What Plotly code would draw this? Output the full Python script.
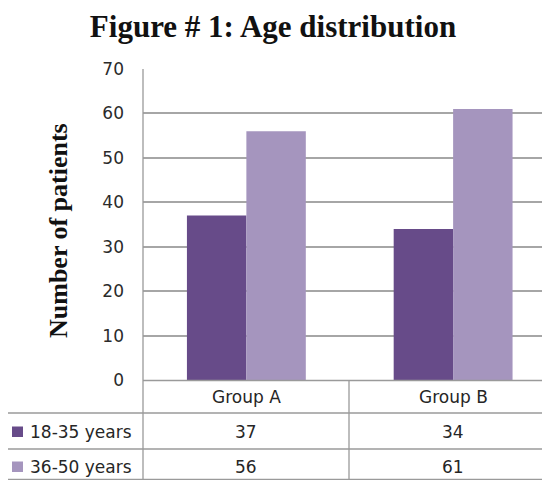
import plotly.graph_objects as go

categories = ["Group A", "Group B"]
series_names = ["18-35 years", "36-50 years"]
values_18_35 = [37, 34]
values_36_50 = [56, 61]
y_ticks = [0, 10, 20, 30, 40, 50, 60, 70]

colors = ["#674b89", "#a595be"]
series_values = [values_18_35, values_36_50]

# the page body has an 8px margin; the figure is sized/offset to compensate
OFF = 8
W, H = 550 - OFF, 480 - OFF
PL, PR, PT, PB = 143, 550, 69, 380  # plot area in page pixels
L, R, T, B = PL - OFF, 0, PT - OFF, 480 - PB
PW, PH = PR - PL, PB - PT

def px(x):
    return (x - PL) / PW

def py(y):
    return (PB - y) / PH

fig = go.Figure()
for name, vals, col in zip(series_names, series_values, colors):
    fig.add_trace(go.Bar(x=categories, y=vals, name=name, marker_color=col,
                         marker_line_width=0, showlegend=False))

grid_col = "#a6a6a6"
line_col = "#9a9a9a"
shapes = []
def hline(y, x0, x1):
    shapes.append(dict(type="line", xref="paper", yref="paper",
                       x0=px(x0), x1=px(x1), y0=py(y), y1=py(y),
                       line=dict(color=line_col, width=1.3)))
def vline(x, y0, y1):
    shapes.append(dict(type="line", xref="paper", yref="paper",
                       x0=px(x), x1=px(x), y0=py(y0), y1=py(y1),
                       line=dict(color=line_col, width=1.3)))

hline(380.5, 143, 550)
hline(413, 4, 550)
hline(449, 4, 550)
hline(479.5, 4, 550)
vline(143, 69, 480)
vline(349, 380, 480)
vline(4, 413, 480)

annotations = []
tfont = dict(family="DejaVu Sans, sans-serif", size=17, color="#262626")
for c in categories:
    annotations.append(dict(x=c, xref="x", y=py(397), yref="paper", text=c,
                            showarrow=False, xanchor="center", yanchor="middle", font=tfont))
row_y = [431.5, 466.5]
for name, vals, col, ry in zip(series_names, series_values, colors, row_y):
    shapes.append(dict(type="rect", xref="paper", yref="paper",
                       x0=px(12), x1=px(23), y0=py(ry - 5), y1=py(ry + 5.5),
                       fillcolor=col, line=dict(width=0)))
    annotations.append(dict(x=px(28), xref="paper", y=py(ry), yref="paper",
                            text=name, showarrow=False, xanchor="left", yanchor="middle",
                            font=tfont))
    for c, v in zip(categories, vals):
        annotations.append(dict(x=c, xref="x", y=py(ry), yref="paper", text=str(v),
                                showarrow=False, xanchor="center", yanchor="middle", font=tfont))

# y-axis title
annotations.append(dict(x=px(58), xref="paper", y=py(231), yref="paper",
                        text="<b>Number of patients</b>", textangle=-90, showarrow=False,
                        xanchor="center", yanchor="middle",
                        font=dict(family="Liberation Serif, Times New Roman, serif", size=26, color="#111")))

fig.update_layout(
    width=W, height=H,
    margin=dict(l=L, r=R, t=T, b=B, autoexpand=False),
    paper_bgcolor="white", plot_bgcolor="white",
    barmode="group", bargap=0.425, bargroupgap=0,
    title=dict(text="<b>Figure # 1: Age distribution</b>", x=(273 - OFF) / W, xanchor="center",
               y=1 - (26 - OFF) / H, yanchor="middle",
               font=dict(family="Liberation Serif, Times New Roman, serif", size=31, color="#111")),
    xaxis=dict(range=[-0.5, (550 - 246) / 207], showticklabels=False, showgrid=False,
               zeroline=False, showline=False, ticks=""),
    yaxis=dict(range=[0, 70], tickvals=y_ticks, showgrid=True, gridcolor=grid_col, gridwidth=1.5,
               zeroline=False, showline=False, ticks="", ticklabelstandoff=18,
               tickfont=dict(family="DejaVu Sans, sans-serif", size=17, color="#2b2b2b")),
    shapes=shapes, annotations=annotations,
)

fig.write_html("out.html")
